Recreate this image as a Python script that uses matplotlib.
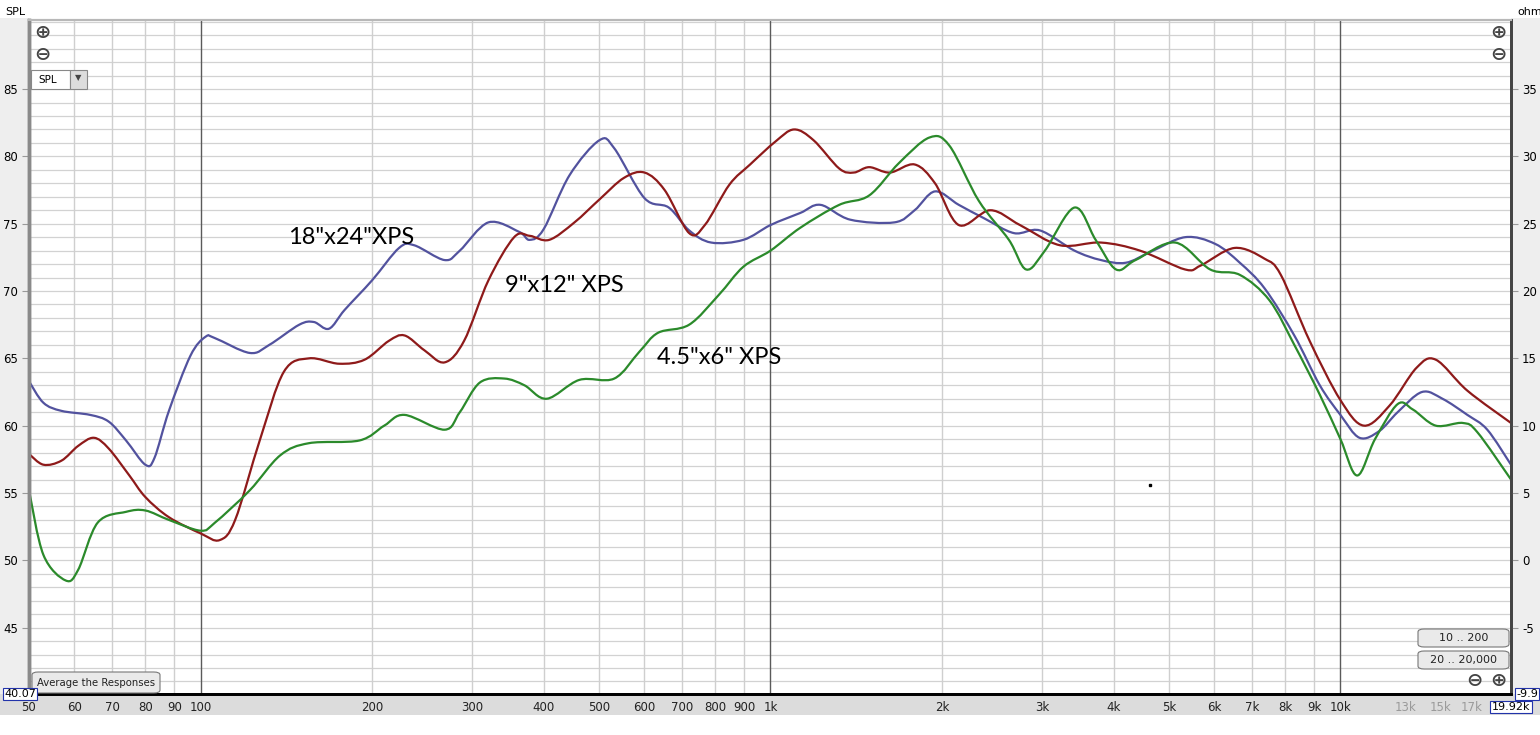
"""
REW style SPL plot: three XPS panel sizes
"""
import numpy as np
import matplotlib.pyplot as plt
from matplotlib.patches import FancyBboxPatch, Rectangle, PathPatch
from matplotlib.path import Path
from matplotlib.ticker import FixedLocator, NullFormatter

plt.rcParams["axes.unicode_minus"] = False

# --- data (Hz, dB SPL) ---
freq_big = [50, 53, 57, 64, 69, 74, 80, 83, 88, 96, 102, 106, 122, 132, 149, 158,
            168, 179, 200, 223, 237, 268, 285, 320, 362, 378, 400, 444, 501, 532,
            601, 663, 720, 787, 896, 1000, 1128, 1224, 1380, 1650, 1790, 1944,
            2140, 2371, 2675, 2970, 3415, 3800, 4200, 4640, 5340, 6030, 6660,
            7360, 8300, 9200, 10000, 10800, 11700, 12600, 13900, 15100, 16700,
            18100, 19920]
spl_big = [63.3, 61.7, 61.1, 60.8, 60.3, 58.9, 57.1, 57.6, 61.1, 65.2, 66.6, 66.5,
           65.4, 66.0, 67.5, 67.7, 67.2, 68.6, 70.8, 73.2, 73.4, 72.3, 73.0, 75.1,
           74.4, 73.8, 74.6, 78.6, 81.2, 80.6, 76.9, 76.2, 74.5, 73.6, 73.8, 74.9,
           75.8, 76.4, 75.3, 75.1, 76.0, 77.4, 76.4, 75.4, 74.3, 74.5, 73.0, 72.3,
           72.1, 72.9, 74.0, 73.5, 72.1, 70.2, 66.7, 63.0, 60.8, 59.1, 59.6, 61.0,
           62.5, 62.0, 60.8, 59.7, 57.1]

freq_mid = [50, 53, 57, 61, 65, 69, 75, 80, 88, 100, 108, 115, 127, 140, 155, 175,
            194, 214, 228, 247, 268, 290, 320, 355, 378, 409, 453, 501, 553, 601,
            652, 720, 767, 847, 921, 1020, 1100, 1190, 1320, 1400, 1490, 1620,
            1790, 1944, 2140, 2430, 2740, 3220, 3800, 4450, 5340, 5690, 6520,
            7360, 7860, 8830, 10000, 11000, 12200, 13600, 14700, 16700, 19920]
spl_mid = [57.9, 57.1, 57.4, 58.5, 59.1, 58.3, 56.3, 54.7, 53.2, 52.0, 51.5, 53.0,
           58.9, 64.0, 65.0, 64.6, 64.9, 66.3, 66.7, 65.6, 64.7, 66.3, 70.8, 74.0,
           74.1, 73.8, 75.1, 76.8, 78.4, 78.8, 77.5, 74.3, 74.9, 77.9, 79.4, 81.1,
           82.0, 81.2, 79.1, 78.8, 79.2, 78.8, 79.4, 78.0, 74.9, 76.0, 74.9, 73.4,
           73.6, 73.0, 71.6, 71.9, 73.2, 72.4, 71.2, 66.3, 61.9, 60.0, 61.5, 64.3,
           64.9, 62.6, 60.2]

freq_small = [50, 53, 58, 61, 66, 74, 80, 88, 100, 106, 122, 138, 155, 190, 210,
              228, 268, 285, 309, 341, 370, 405, 462, 532, 589, 635, 720, 811, 896,
              1000, 1128, 1320, 1490, 1680, 1900, 2060, 2320, 2620, 2810, 3030,
              3415, 3720, 4040, 4370, 5130, 5910, 6660, 7510, 8300, 9200, 10000,
              10700, 11500, 12600, 13400, 14700, 16400, 17400, 19920]
spl_small = [55.2, 50.4, 48.5, 49.3, 52.8, 53.6, 53.7, 53.0, 52.2, 52.8, 55.2, 57.8,
             58.7, 58.9, 60.0, 60.8, 59.7, 61.0, 63.2, 63.5, 63.0, 62.0, 63.4, 63.5,
             65.5, 66.9, 67.5, 69.7, 71.8, 73.0, 74.7, 76.4, 77.1, 79.5, 81.4, 80.8,
             76.7, 73.8, 71.6, 73.0, 76.2, 73.8, 71.6, 72.3, 73.6, 71.6, 71.2, 69.3,
             66.0, 62.3, 59.0, 56.3, 59.0, 61.6, 61.2, 60.0, 60.2, 59.5, 56.0]

labels = ['18"x24"XPS', '9"x12" XPS', '4.5"x6" XPS']
colors = ["#52529e", "#8e1a1a", "#2b8a2b"]

x_ticks = [50, 60, 70, 80, 90, 100, 200, 300, 400, 500, 600, 700, 800, 900,
           1000, 2000, 3000, 4000, 5000, 6000, 7000, 8000, 9000, 10000,
           13000, 15000, 17000]
x_tick_labels = ["50", "60", "70", "80", "90", "100", "200", "300", "400", "500",
                 "600", "700", "800", "900", "1k", "2k", "3k", "4k", "5k", "6k",
                 "7k", "8k", "9k", "10k", "13k", "15k", "17k"]
spl_ticks = [45, 50, 55, 60, 65, 70, 75, 80, 85]
ohm_ticks = [-5, 0, 5, 10, 15, 20, 25, 30, 35]

f_min, f_max = 50, 19920
spl_min, spl_max = 40.07, 90.13


def smooth_path(freq, spl):
    # Catmull-Rom through the read points, drawn as cubic Bezier segments (log-f space)
    u = np.log10(freq)
    v = np.asarray(spl, dtype=float)
    n = len(u)
    verts = [(u[0], v[0])]
    codes = [Path.MOVETO]
    for i in range(n - 1):
        i0, i2 = max(i - 1, 0), min(i + 2, n - 1)
        c1 = (u[i] + (u[i + 1] - u[i0]) / 6, v[i] + (v[i + 1] - v[i0]) / 6)
        c2 = (u[i + 1] - (u[i2] - u[i]) / 6, v[i + 1] - (v[i2] - v[i]) / 6)
        verts += [c1, c2, (u[i + 1], v[i + 1])]
        codes += [Path.CURVE4] * 3
    verts = [(10 ** a, b) for a, b in verts]
    return Path(verts, codes)


fig = plt.figure(figsize=(15.4, 7.35), dpi=100)
fig.patch.set_facecolor("white")
# grey band under the x labels and the side margins
fig.patches.append(Rectangle((0, 0.027), 1, 0.029, transform=fig.transFigure,
                             facecolor="#dcdcdc", edgecolor="none", zorder=-5))
fig.patches.append(Rectangle((0, 0.056), 0.0188, 0.92, transform=fig.transFigure,
                             facecolor="#eeeeee", edgecolor="none", zorder=-5))
fig.patches.append(Rectangle((0.9812, 0.056), 0.0188, 0.92, transform=fig.transFigure,
                             facecolor="#eeeeee", edgecolor="none", zorder=-5))

ax = fig.add_axes([29 / 1540, 1 - 694 / 735, (1511 - 29) / 1540, (694 - 20) / 735])
ax.set_xscale("log")
ax.set_xlim(f_min, f_max)
ax.set_ylim(spl_min, spl_max)

# grid: every 1 dB, every decade step
for v in range(41, 91):
    ax.axhline(v, color="#d2d2d2", lw=0.9, zorder=1)
grid_f = [m * 10 ** d for d in range(1, 5) for m in range(1, 10)]
for f in grid_f:
    if f_min < f < f_max:
        major = f in (100, 1000, 10000)
        ax.axvline(f, color="#5a5a5a" if major else "#cfcfcf", lw=1.0, zorder=1)

for fr, sp, col in [(freq_big, spl_big, colors[0]), (freq_mid, spl_mid, colors[1]),
                    (freq_small, spl_small, colors[2])]:
    ax.add_patch(PathPatch(smooth_path(fr, sp), facecolor="none", edgecolor=col,
                           lw=1.6, zorder=3))

lab_font = ["Lato", "DejaVu Sans"]
ax.text(288 / 1540, 1 - 238 / 735, labels[0], transform=fig.transFigure,
        fontsize=17, family=lab_font, va="center", ha="left", zorder=5)
ax.text(505 / 1540, 1 - 285 / 735, labels[1], transform=fig.transFigure,
        fontsize=17, family=lab_font, va="center", ha="left", zorder=5)
ax.text(657 / 1540, 1 - 357 / 735, labels[2], transform=fig.transFigure,
        fontsize=17, family=lab_font, va="center", ha="left", zorder=5)

# stray dot
ax.plot([4630], [55.6], marker="s", ms=1.5, color="black", zorder=4)

# ticks
ax.xaxis.set_major_locator(FixedLocator(x_ticks))
ax.xaxis.set_minor_locator(FixedLocator([]))
ax.xaxis.set_minor_formatter(NullFormatter())
ax.set_xticklabels(x_tick_labels)
ax.tick_params(axis="x", length=0, labelsize=8.5, pad=5, colors="#222222")
for t, lbl in zip(ax.get_xticklabels(), x_tick_labels):
    if lbl in ("13k", "15k", "17k"):
        t.set_color("#9a9a9a")
ax.set_yticks(spl_ticks)
ax.tick_params(axis="y", length=5, labelsize=8.5, color="#999999", pad=3)

ax2 = ax.twinx()
ax2.set_ylim(spl_min - 50, spl_max - 50)
ax2.set_yticks(ohm_ticks)
ax2.tick_params(axis="y", length=5, labelsize=8.5, color="#999999", pad=3)

for a in (ax, ax2):
    a.spines["top"].set_color("#b8b8b8")
    a.spines["top"].set_linewidth(1.5)
    a.spines["left"].set_color("#8a8a8a")
    a.spines["left"].set_linewidth(2.5)
    a.spines["right"].set_color("#444444")
    a.spines["right"].set_linewidth(2.0)
    a.spines["bottom"].set_color("black")
    a.spines["bottom"].set_linewidth(2.0)

# axis titles
fig.text(5 / 1540, 1 - 12 / 735, "SPL", fontsize=8, va="center", ha="left")
fig.text(1517 / 1540, 1 - 12 / 735, "ohm", fontsize=8, va="center", ha="left")

# zoom icons
icon = dict(fontsize=14, va="center", ha="center", color="#444444",
            family="DejaVu Sans", fontweight="bold", zorder=12)
fig.text(42 / 1540, 1 - 33 / 735, "\u2295", **icon)
fig.text(42 / 1540, 1 - 55 / 735, "\u2296", **icon)
fig.text(1498 / 1540, 1 - 33 / 735, "\u2295", **icon)
fig.text(1498 / 1540, 1 - 55 / 735, "\u2296", **icon)
fig.text(1474 / 1540, 1 - 681 / 735, "\u2296", **icon)
fig.text(1498 / 1540, 1 - 681 / 735, "\u2295", **icon)


def button(x0, y0, x1, y1, text, size=8):
    box = FancyBboxPatch((x0 / 1540, 1 - y1 / 735), (x1 - x0) / 1540, (y1 - y0) / 735,
                         boxstyle="round,pad=0,rounding_size=0.004",
                         transform=fig.transFigure, facecolor="#eaeaea",
                         edgecolor="#777777", lw=0.8, zorder=10)
    fig.patches.append(box)
    fig.text((x0 + x1) / 2 / 1540, 1 - (y0 + y1) / 2 / 735, text, fontsize=size,
             va="center", ha="center", zorder=11, color="#222222")


# SPL dropdown
fig.patches.append(Rectangle((31 / 1540, 1 - 89 / 735), 39 / 1540, 19 / 735,
                             transform=fig.transFigure, facecolor="white",
                             edgecolor="#888888", lw=0.8, zorder=10))
fig.patches.append(Rectangle((70 / 1540, 1 - 89 / 735), 17 / 1540, 19 / 735,
                             transform=fig.transFigure, facecolor="#dddddd",
                             edgecolor="#888888", lw=0.8, zorder=10))
fig.text(48 / 1540, 1 - 80 / 735, "SPL", fontsize=7.5, va="center", ha="center", zorder=11)
fig.text(78.5 / 1540, 1 - 78 / 735, "\u25BC", fontsize=6, va="center", ha="center",
         color="#444444", zorder=11)

button(32, 672, 160, 693, "Average the Responses", size=7.3)
button(1418, 629, 1509, 647, "10 .. 200")
button(1418, 651, 1509, 669, "20 .. 20,000")


def boxed(x, y, text, ha):
    fig.text(x / 1540, 1 - y / 735, text, fontsize=8, va="center", ha=ha, zorder=12,
             bbox=dict(boxstyle="square,pad=0.12", facecolor="white",
                       edgecolor="#2233aa", lw=0.8))


boxed(20, 694, "40.07", "center")
boxed(1527, 694, "-9.9", "center")
boxed(1511, 707, "19.92k", "center")

fig.savefig("out.png", dpi=100)
